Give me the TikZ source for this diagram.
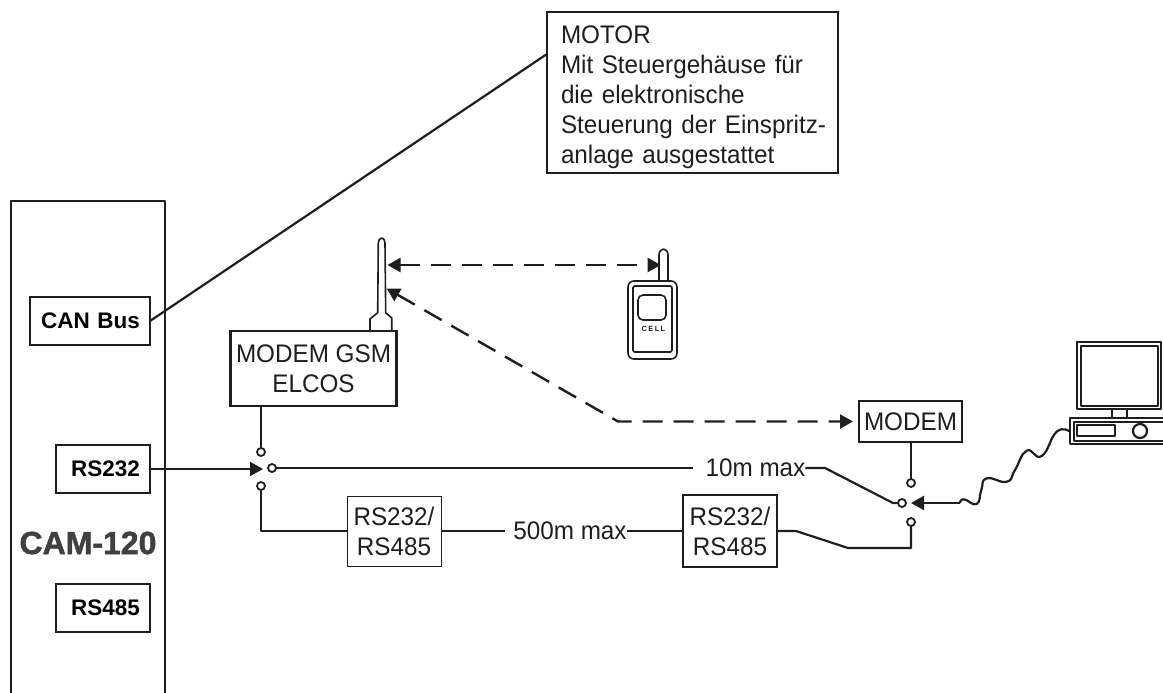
\documentclass[tikz,border=0pt]{standalone}
\usepackage{fontspec}
\setmainfont{Liberation Sans}
\newfontfamily\tightfont[FakeStretch=0.955]{Liberation Sans}
\usetikzlibrary{arrows.meta}
\definecolor{ink}{HTML}{1E1E1E}
\tikzset{
  lbl/.style={font=\tightfont\fontsize{25.4}{30}\selectfont, text=ink, inner sep=0pt, outer sep=0pt},
  boxn/.style={lbl, draw=ink, line width=2.2pt, align=center},
  thinbox/.style={boxn, line width=1pt},
  port/.style={draw=ink, line width=2.2pt, outer sep=0pt, inner sep=0pt, minimum height=48pt,
    align=right, font=\fontsize{22.5}{26}\bfseries\selectfont, text=black},
  pin/.style={circle, draw=ink, line width=1.8pt, minimum size=8pt, inner sep=0pt, outer sep=0pt},
  wire/.style={draw=ink, line width=2.2pt, line join=round},
  fine/.style={draw=ink, line width=1.6pt, line join=round},
  tip/.style={-{Triangle[length=13pt,width=14pt]}},
  twotips/.style={{Triangle[length=13pt,width=14pt]}-{Triangle[length=13pt,width=14pt]}},
  radio/.style={wire, line width=2.4pt, dash pattern=on 20pt off 11pt}
}
\begin{document}
\begin{tikzpicture}[x=1pt,y=-1pt]
\useasboundingbox (0,0) rectangle (1163,693);
% CAM housing
\coordinate (camBL) at (11,693);
\coordinate (camTL) at (11,201);
\coordinate (camTR) at (165,201);
\coordinate (camBR) at (165,693);
\draw[wire] (camBL) -- (camTL) -- (camTR) -- (camBR);
\node[port, minimum width=120pt, text width=100pt] (can) at (90,321) {CAN Bus};
\node[port, minimum width=94pt, text width=74pt] (rsa) at (103,469) {RS232};
\node[port, minimum width=94pt, text width=74pt] (rsb) at (103,608) {RS485};
\node[inner sep=0pt, font=\fontsize{32}{36}\bfseries\selectfont, text=ink!85!white] (cam) at (88,543) {\addfontfeatures{FakeBold=1.5}CAM-120};
% Motor
\node[boxn, minimum width=291pt, minimum height=161pt, text width=263pt, align=left] (motor) at (692.5,92.5)
 {\rule{0pt}{26.3pt}MOTOR\\Mit Steuergehäuse für\\die elektronische\\\mbox{Steuerung der Einspritz-}\\anlage ausgestattet};
\coordinate (motorIn) at (547,54);
\draw[wire] (can.east) -- (motorIn);
% GSM modem + antenna
\node[boxn, minimum width=166pt, minimum height=75pt] (gsm) at (313.5,368.5) {MODEM GSM\\ELCOS};
\coordinate (a1) at (370,330); \coordinate (a2) at (370,319); \coordinate (a3) at (377.7,312.7);
\coordinate (a4) at (378.3,243); \coordinate (a5) at (385,243); \coordinate (a6) at (385.7,312.7);
\coordinate (a7) at (391.7,318); \coordinate (a8) at (391.7,330);
\draw[fine] (a1) -- (a2) -- (a3) -- (a4) arc[start angle=180,end angle=0,x radius=3.35,y radius=-5] -- (a6) -- (a7) -- (a8);
\coordinate (gsmA) at (387.5,265);
\coordinate (gsmB) at (386.7,288.5);
% Phone
\coordinate (phA) at (660.7,265);
\draw[fine] (659,281) -- (659,255) arc[start angle=180,end angle=0,x radius=4.5,y radius=-6] -- (668,281);
\draw[fine,rounded corners=6pt] (628,281) rectangle (677,359);
\draw[fine,rounded corners=1.5pt] (633,286) rectangle (672,352);
\draw[fine,rounded corners=5pt] (638,295) rectangle (666,320);
\node[inner sep=0pt, font=\fontsize{7.5}{8}\bfseries\selectfont, text=ink] (cell) at (653.5,329) {\addfontfeatures{LetterSpace=18}CELL};
\draw[radio,twotips] (gsmA) -- (phA);
% Right modem
\node[boxn, minimum width=103pt, minimum height=41pt] (modem) at (910.5,421.5) {MODEM};
\coordinate (bend) at (618,421.5);
\coordinate (modemIn) at (853,421.5);
\draw[radio,twotips] (gsmB) -- (bend) -- (modemIn);
% Left switch
\node[pin] (lt) at (261,452) {};
\node[pin] (lm) at (272,468) {};
\node[pin] (lb) at (261,486) {};
\coordinate (lTip) at (263,469);
\draw[wire] (gsm.south -| lt) -- (lt);
\draw[wire,tip] (rsa.east) -- (lTip);
% Converters
\node[thinbox, minimum width=94pt, minimum height=70pt] (c1) at (394,531) {RS232/\\RS485};
\node[boxn, minimum width=94pt, minimum height=72pt] (c2) at (730,531) {RS232/\\RS485};
\coordinate (lc) at (261,531);
\draw[wire] (lb) -- (lc) -- (c1.west);
\node[lbl] (d500) at (570,531) {500m max};
\coordinate (c1r) at (505,531);
\draw[wire] (c1.east) -- (c1r);
\draw[wire] (d500.east) -- (c2.west);
\node[lbl] (d10) at (755.5,468) {10m max};
\coordinate (d10l) at (693,468);
\draw[wire,line width=1.8pt] (lm) -- (d10l);
% Right switch
\node[pin] (rt) at (911,483) {};
\node[pin] (rm) at (902,503) {};
\node[pin] (rb) at (911,522) {};
\coordinate (rTip) at (911,503);
\draw[wire] (modem.south -| rt) -- (rt);
\coordinate (k1) at (825,468);
\coordinate (k2) at (893,503);
\draw[wire] (d10.east) -- (k1) -- (k2) -- (rm);
\coordinate (m1) at (796,531);
\coordinate (m2) at (848,548);
\coordinate (m3) at (911,548);
\draw[wire] (c2.east) -- (m1) -- (m2) -- (m3) -- (rb);
% Computer
\coordinate (pcIn) at (1070,431.7);
\coordinate (waveStart) at (960,503);
\draw[wire,tip] (waveStart) -- (rTip);
\draw[wire] plot[smooth,tension=.85] coordinates {(waveStart) (964,499.3) (976.7,504) (981.3,490) (986.7,478.3) (1006.7,481.7) (1015,470) (1026.7,450.7) (1041.7,456) (1056.7,431.7) (pcIn)};
\draw[wire] (1077,342) rectangle (1161,409);
\draw[wire] (1081,346) rectangle (1158,406);
\draw[wire] (1112,409) -- (1112,418);
\draw[wire] (1127,409) -- (1127,418);
\draw[wire] (1163,418) -- (1070,418) -- (1070,444) -- (1163,444);
\draw[wire] (1163,422) -- (1074,422) -- (1074,441) -- (1163,441);
\draw[wire] (1077,425) rectangle (1115,436);
\draw[wire] (1140,431) circle[radius=7];
\end{tikzpicture}
\end{document}
